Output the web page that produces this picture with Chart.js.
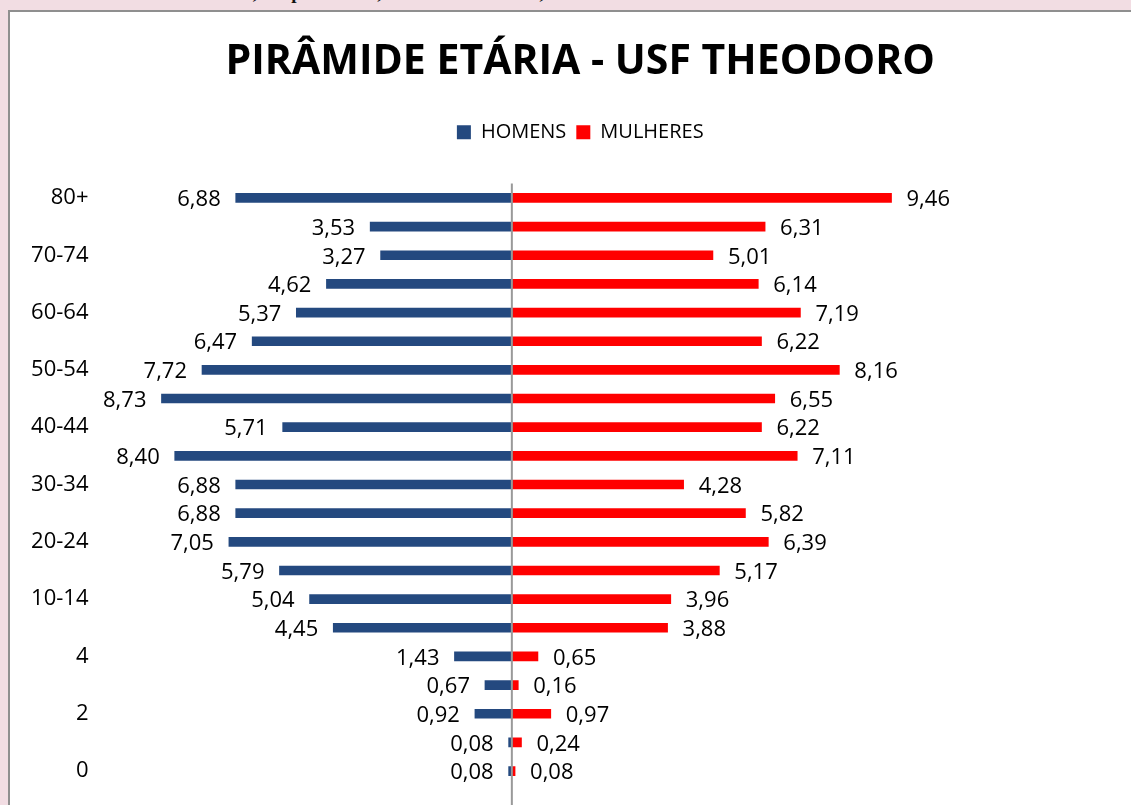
<!DOCTYPE html>
<html>
<head>
<meta charset="utf-8">
<script src="https://cdn.jsdelivr.net/npm/chart.js@4"></script>
<style>
  html, body { margin: 0; padding: 0; overflow: hidden; }
  body { width: 1131px; height: 805px; background: #f2dde3; position: relative; }
  #caption {
    position: absolute; left: 30px; top: 0; width: 1100px; height: 10px; overflow: hidden;
  }
  #caption span {
    position: absolute; top: -18px; left: 0; white-space: nowrap;
    font: bold 19px "Liberation Serif", serif; color: #111;
  }
  #box {
    position: absolute; left: 8px; top: 10px; width: 1200px; height: 900px;
    background: #fff; border: 2px solid #8f8f8f;
  }
  #wrap { position: absolute; left: 10px; top: 12px; width: 1140px; height: 793px; }
</style>
</head>
<body>
<div id="caption"><span>Gráfico 1 – Pirâmide etária, em percentual, nas faixas de idade, dezembro de 2017</span></div>
<div id="box"></div>
<div id="wrap"><canvas id="pyramid"></canvas></div>
<script>
const ageGroups = ["80+", "75-79", "70-74", "65-69", "60-64", "55-59", "50-54", "45-49", "40-44", "35-39",
  "30-34", "25-29", "20-24", "15-19", "10-14", "5-9", "4", "3", "2", "1", "0"];
const homens = [6.88, 3.53, 3.27, 4.62, 5.37, 6.47, 7.72, 8.73, 5.71, 8.40,
  6.88, 6.88, 7.05, 5.79, 5.04, 4.45, 1.43, 0.67, 0.92, 0.08, 0.08];
const mulheres = [9.46, 6.31, 5.01, 6.14, 7.19, 6.22, 8.16, 6.55, 6.22, 7.11,
  4.28, 5.82, 6.39, 5.17, 3.96, 3.88, 0.65, 0.16, 0.97, 0.24, 0.08];

const labelFont = '22px "Open Sans", sans-serif';

// value labels at the end of each bar + the center axis line
const barLabels = {
  id: 'barLabels',
  afterDatasetsDraw(chart) {
    const c = chart.ctx;
    c.save();
    c.font = labelFont;
    c.fillStyle = '#000';
    c.textBaseline = 'middle';
    chart.data.datasets.forEach((ds, i) => {
      chart.getDatasetMeta(i).data.forEach((bar, j) => {
        const v = Math.abs(ds.data[j]).toFixed(2).replace('.', ',');
        if (ds.data[j] < 0) {
          c.textAlign = 'right';
          c.fillText(v, bar.x - 15, bar.y + 2);
        } else {
          c.textAlign = 'left';
          c.fillText(v, bar.x + 15, bar.y + 2);
        }
      });
    });
    const x0 = chart.scales.x.getPixelForValue(0);
    c.strokeStyle = '#999';
    c.lineWidth = 2;
    c.beginPath();
    c.moveTo(x0, chart.chartArea.top);
    c.lineTo(x0, chart.height);
    c.stroke();
    c.restore();
  }
};

new Chart(document.getElementById('pyramid'), {
  type: 'bar',
  data: {
    labels: ageGroups,
    datasets: [
      { label: 'HOMENS', data: homens.map(v => -v), backgroundColor: '#24497f', barThickness: 9 },
      { label: 'MULHERES', data: mulheres, backgroundColor: '#ff0000', barThickness: 9 }
    ]
  },
  options: {
    indexAxis: 'y',
    responsive: true,
    maintainAspectRatio: false,
    animation: false,
    layout: { padding: { left: 0.5, right: 0, top: 0, bottom: 19.6 } },
    scales: {
      x: {
        position: 'top',
        stacked: true,
        min: -10,
        max: 15.9,
        ticks: { display: false },
        grid: { display: false },
        border: { display: false },
        afterFit(scale) { scale.height = 31.4; }
      },
      y: {
        stacked: true,
        grid: { display: false, drawTicks: false },
        border: { display: false },
        ticks: {
          autoSkip: false,
          padding: 22,
          color: '#000',
          font: { family: '"Open Sans", sans-serif', size: 22 },
          callback: (v, i) => (i % 2 === 0 ? ageGroups[i] : '')
        },
        afterFit(scale) {
          scale.width = 100;
          scale.paddingTop = 0;
          scale.paddingBottom = 0;
        }
      }
    },
    plugins: {
      title: {
        display: true,
        text: 'PIRÂMIDE ETÁRIA - USF THEODORO',
        color: '#000',
        font: { family: '"Open Sans", sans-serif', size: 41, weight: 'bold' },
        padding: { top: 26, bottom: 25 }
      },
      legend: {
        labels: {
          color: '#000',
          font: { family: '"Open Sans", sans-serif', size: 20 },
          boxWidth: 14,
          boxHeight: 14,
          padding: 10
        }
      },
      tooltip: { enabled: false }
    }
  },
  plugins: [barLabels]
});
</script>
</body>
</html>
